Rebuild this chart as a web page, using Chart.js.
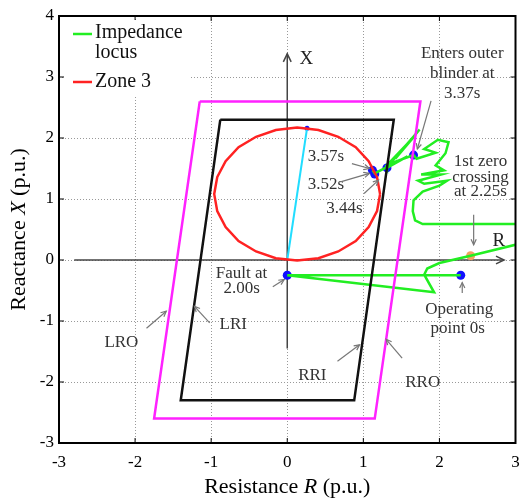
<!DOCTYPE html>
<html>
<head>
<meta charset="utf-8">
<script src="https://cdn.jsdelivr.net/npm/chart.js@4"></script>
<style>
  html, body { margin: 0; padding: 0; background: #fff; }
  #wrap { width: 520px; height: 500px; }
</style>
</head>
<body>
<div id="wrap"><canvas id="zChart" width="520" height="500"></canvas></div>
<script>
// blinders (closed polygons), R then X
const outerBlinderR = [-1.15, 1.75, 1.15, -1.75, -1.15];
const outerBlinderX = [2.6, 2.6, -2.6, -2.6, 2.6];
const innerBlinderR = [-0.88, 1.40, 0.88, -1.40, -0.88];
const innerBlinderX = [2.3, 2.3, -2.3, -2.3, 2.3];

// zone 3 mho circle, read round the outline
const zone3R = [1.22, 1.18, 1.07, 0.90, 0.67, 0.41, 0.13, -0.15, -0.41, -0.64, -0.81, -0.92, -0.96,
                -0.92, -0.81, -0.64, -0.41, -0.15, 0.13, 0.41, 0.67, 0.90, 1.07, 1.18, 1.22];
const zone3X = [1.08, 1.36, 1.62, 1.85, 2.02, 2.13, 2.17, 2.13, 2.02, 1.85, 1.62, 1.36, 1.08,
                0.80, 0.54, 0.31, 0.14, 0.03, -0.01, 0.03, 0.14, 0.31, 0.54, 0.80, 1.08];

const reachR = [0, 0.26];
const reachX = [0, 2.16];

// impedance locus from 0s onwards
const locusR = [2.28, 0, 1.93, 1.80, 1.84, 2.00, 2.41, 3.10,
                3.10, 1.78, 1.68, 1.65, 1.66, 1.78, 2.00, 2.10, 1.80, 1.72, 2.02, 1.76, 2.06, 1.95,
                2.08, 2.12, 1.98, 1.80, 1.95, 1.70, 1.66, 1.35, 1.74, 1.42, 1.68, 1.30, 1.31, 1.58,
                1.15, 1.12];
const locusX = [-0.25, -0.25, -0.53, -0.24, -0.14, -0.05, 0.07, 0.28,
                0.59, 0.59, 0.65, 0.80, 0.98, 1.12, 1.22, 1.30, 1.25, 1.30, 1.40, 1.40, 1.47, 1.55,
                1.75, 1.93, 1.97, 1.82, 1.76, 1.66, 1.72, 1.58, 2.14, 1.66, 2.04, 1.54, 1.51, 1.70,
                1.42, 1.47];

const eventR = [0, 2.28, 1.12, 1.15, 1.31, 1.66];
const eventX = [-0.25, -0.25, 1.47, 1.41, 1.51, 1.72];
const zeroCrossR = [2.41];
const zeroCrossX = [0.07];

const tickValues = [-3, -2, -1, 0, 1, 2, 3, 4];

// text notes: label lines, centre (R, X)
const notes = [
  ['Enters outer', 2.30, 3.38], ['blinder at', 2.30, 3.06], ['3.37s', 2.30, 2.73],
  ['1st zero', 2.54, 1.61], ['crossing', 2.54, 1.36], ['at 2.25s', 2.54, 1.12],
  ['3.57s', 0.51, 1.70], ['3.52s', 0.51, 1.23], ['3.44s', 0.75, 0.85],
  ['Fault at', -0.60, -0.22], ['2.00s', -0.60, -0.46],
  ['LRO', -2.18, -1.35], ['LRI', -0.71, -1.06], ['RRI', 0.33, -1.90], ['RRO', 1.78, -2.01],
  ['Operating', 2.26, -0.81], ['point 0s', 2.24, -1.12]
];
// pointer arrows: from (R, X) to (R, X)
const pointers = [
  [1.89, 2.61, 1.71, 1.82], [2.45, 0.74, 2.45, 0.25],
  [0.85, 1.58, 1.08, 1.50], [0.70, 1.28, 1.08, 1.42], [1.01, 1.09, 1.20, 1.31],
  [-0.19, -0.44, -0.04, -0.32],
  [-1.85, -1.12, -1.59, -0.84], [-1.02, -1.03, -1.22, -0.76],
  [0.66, -1.66, 0.95, -1.39], [1.51, -1.61, 1.30, -1.30],
  [2.30, -0.54, 2.30, -0.37]
];

const pts = (xs, ys) => xs.map((x, i) => ({ x, y: ys[i] }));
const SERIF = '"Liberation Serif", "DejaVu Serif", serif';

function arrowHead(ctx, x1, y1, x2, y2, len) {
  const a = Math.atan2(y2 - y1, x2 - x1);
  ctx.beginPath();
  ctx.moveTo(x2 - len * Math.cos(a - 0.45), y2 - len * Math.sin(a - 0.45));
  ctx.lineTo(x2, y2);
  ctx.lineTo(x2 - len * Math.cos(a + 0.45), y2 - len * Math.sin(a + 0.45));
  ctx.stroke();
}

const decorations = {
  id: 'decorations',
  beforeDatasetsDraw(chart) {
    const { ctx, chartArea: ca, scales: { x, y } } = chart;
    ctx.save();
    // dotted grid
    ctx.strokeStyle = '#999';
    ctx.lineWidth = 1;
    ctx.setLineDash([1, 2]);
    ctx.beginPath();
    tickValues.forEach(v => {
      if (v > -3 && v < 3) {
        const px = Math.round(x.getPixelForValue(v)) + 0.5;
        ctx.moveTo(px, ca.top); ctx.lineTo(px, ca.bottom);
      }
      if (v > -3 && v < 4) {
        const py = Math.round(y.getPixelForValue(v)) + 0.5;
        ctx.moveTo(ca.left, py); ctx.lineTo(ca.right, py);
      }
    });
    ctx.stroke();
    ctx.setLineDash([]);

    ctx.strokeStyle = '#444';
    ctx.lineWidth = 1.5;
    // R axis
    ctx.beginPath();
    ctx.moveTo(x.getPixelForValue(-2.8), y.getPixelForValue(0));
    ctx.lineTo(x.getPixelForValue(2.85), y.getPixelForValue(0));
    ctx.stroke();
    arrowHead(ctx, x.getPixelForValue(2.5), y.getPixelForValue(0), x.getPixelForValue(2.85), y.getPixelForValue(0), 9);
    // X axis
    ctx.beginPath();
    ctx.moveTo(x.getPixelForValue(0), y.getPixelForValue(-1.45));
    ctx.lineTo(x.getPixelForValue(0), y.getPixelForValue(3.38));
    ctx.stroke();
    arrowHead(ctx, x.getPixelForValue(0), y.getPixelForValue(3), x.getPixelForValue(0), y.getPixelForValue(3.38), 9);
    ctx.restore();
  },
  afterDraw(chart) {
    const { ctx, chartArea: ca, scales: { x, y } } = chart;
    ctx.save();

    // frame with inward ticks
    ctx.strokeStyle = '#000';
    ctx.lineWidth = 2;
    ctx.strokeRect(ca.left, ca.top, ca.right - ca.left, ca.bottom - ca.top);
    ctx.lineWidth = 1;
    ctx.beginPath();
    tickValues.forEach(v => {
      if (v <= 3) {
        const px = x.getPixelForValue(v);
        ctx.moveTo(px, ca.bottom); ctx.lineTo(px, ca.bottom - 5);
        ctx.moveTo(px, ca.top); ctx.lineTo(px, ca.top + 5);
      }
      const py = y.getPixelForValue(v);
      ctx.moveTo(ca.left, py); ctx.lineTo(ca.left + 5, py);
      ctx.moveTo(ca.right, py); ctx.lineTo(ca.right - 5, py);
    });
    ctx.stroke();

    // axis letters
    ctx.fillStyle = '#222';
    ctx.font = '19px ' + SERIF;
    ctx.textAlign = 'center';
    ctx.textBaseline = 'middle';
    ctx.fillText('X', x.getPixelForValue(0.25), y.getPixelForValue(3.30));
    ctx.fillText('R', x.getPixelForValue(2.78), y.getPixelForValue(0.31));

    // notes and pointers
    ctx.font = '17px ' + SERIF;
    ctx.fillStyle = '#333';
    notes.forEach(([t, r, xv]) => ctx.fillText(t, x.getPixelForValue(r), y.getPixelForValue(xv)));
    ctx.strokeStyle = '#777';
    ctx.lineWidth = 1.2;
    pointers.forEach(([r1, x1, r2, x2]) => {
      const a = [x.getPixelForValue(r1), y.getPixelForValue(x1)];
      const b = [x.getPixelForValue(r2), y.getPixelForValue(x2)];
      ctx.beginPath(); ctx.moveTo(a[0], a[1]); ctx.lineTo(b[0], b[1]); ctx.stroke();
      arrowHead(ctx, a[0], a[1], b[0], b[1], 6);
    });

    // legend box
    const lx = ca.left, ly = ca.top;
    ctx.fillStyle = '#fff';
    ctx.fillRect(lx + 5, ly + 4, 126, 76);
    ctx.lineWidth = 2.5;
    ctx.strokeStyle = '#22ee22';
    ctx.beginPath(); ctx.moveTo(lx + 14, ly + 18); ctx.lineTo(lx + 33, ly + 18); ctx.stroke();
    ctx.strokeStyle = '#ff2222';
    ctx.beginPath(); ctx.moveTo(lx + 14, ly + 66); ctx.lineTo(lx + 33, ly + 66); ctx.stroke();
    ctx.fillStyle = '#111';
    ctx.font = '20px ' + SERIF;
    ctx.textAlign = 'left';
    ctx.fillText('Impedance', lx + 36, ly + 17);
    ctx.fillText('locus', lx + 36, ly + 37);
    ctx.fillText('Zone 3', lx + 36, ly + 66);

    // axis titles with italic symbols
    const drawTitle = (parts, cx, cy) => {
      const fonts = parts.map(p => (p[1] ? 'italic ' : '') + '22px ' + SERIF);
      let w = 0;
      parts.forEach((p, i) => { ctx.font = fonts[i]; w += ctx.measureText(p[0]).width; });
      let cur = cx - w / 2;
      parts.forEach((p, i) => {
        ctx.font = fonts[i];
        ctx.fillText(p[0], cur, cy);
        cur += ctx.measureText(p[0]).width;
      });
    };
    ctx.fillStyle = '#000';
    drawTitle([['Resistance ', false], ['R', true], [' (p.u.)', false]], (ca.left + ca.right) / 2, 487);
    ctx.translate(19, (ca.top + ca.bottom) / 2);
    ctx.rotate(-Math.PI / 2);
    drawTitle([['Reactance ', false], ['X', true], [' (p.u.)', false]], 0, 0);
    ctx.restore();
  }
};

const lineSet = (data, color, width) => ({
  data, borderColor: color, backgroundColor: color, borderWidth: width,
  showLine: true, pointRadius: 0, tension: 0, clip: 0
});

new Chart(document.getElementById('zChart'), {
  type: 'scatter',
  data: {
    datasets: [
      lineSet(pts(outerBlinderR, outerBlinderX), '#ff22ff', 2.5),
      lineSet(pts(innerBlinderR, innerBlinderX), '#111', 2.5),
      lineSet(pts(zone3R, zone3X), '#ff2222', 2.5),
      lineSet(pts(reachR, reachX), '#22ddff', 2),
      lineSet(pts(locusR, locusX), '#22ee22', 2.5),
      { data: pts(eventR, eventX), backgroundColor: '#1010ff', borderWidth: 0, pointRadius: 4.5 },
      { data: pts([reachR[1]], [reachX[1]]), backgroundColor: '#1010ff', borderWidth: 0, pointRadius: 2.5 },
      { data: pts(zeroCrossR, zeroCrossX), backgroundColor: '#f4a060', borderWidth: 0, pointRadius: 4.5 }
    ]
  },
  options: {
    responsive: false,
    animation: false,
    layout: { padding: { top: 16, right: 4, left: 0, bottom: 0 } },
    plugins: { legend: { display: false }, tooltip: { enabled: false } },
    scales: {
      x: {
        type: 'linear', min: -3, max: 3,
        ticks: { stepSize: 1, color: '#000', padding: 9, font: { family: SERIF, size: 17 } },
        grid: { display: false, drawTicks: false },
        border: { display: false },
        afterFit: s => { s.height = 57; s.paddingLeft = 0; s.paddingRight = 0; }
      },
      y: {
        type: 'linear', min: -3, max: 4,
        ticks: { stepSize: 1, color: '#000', padding: 5, font: { family: SERIF, size: 17 } },
        grid: { display: false, drawTicks: false },
        border: { display: false },
        afterFit: s => { s.width = 59; s.paddingTop = 0; s.paddingBottom = 0; }
      }
    }
  },
  plugins: [decorations]
});
</script>
</body>
</html>
